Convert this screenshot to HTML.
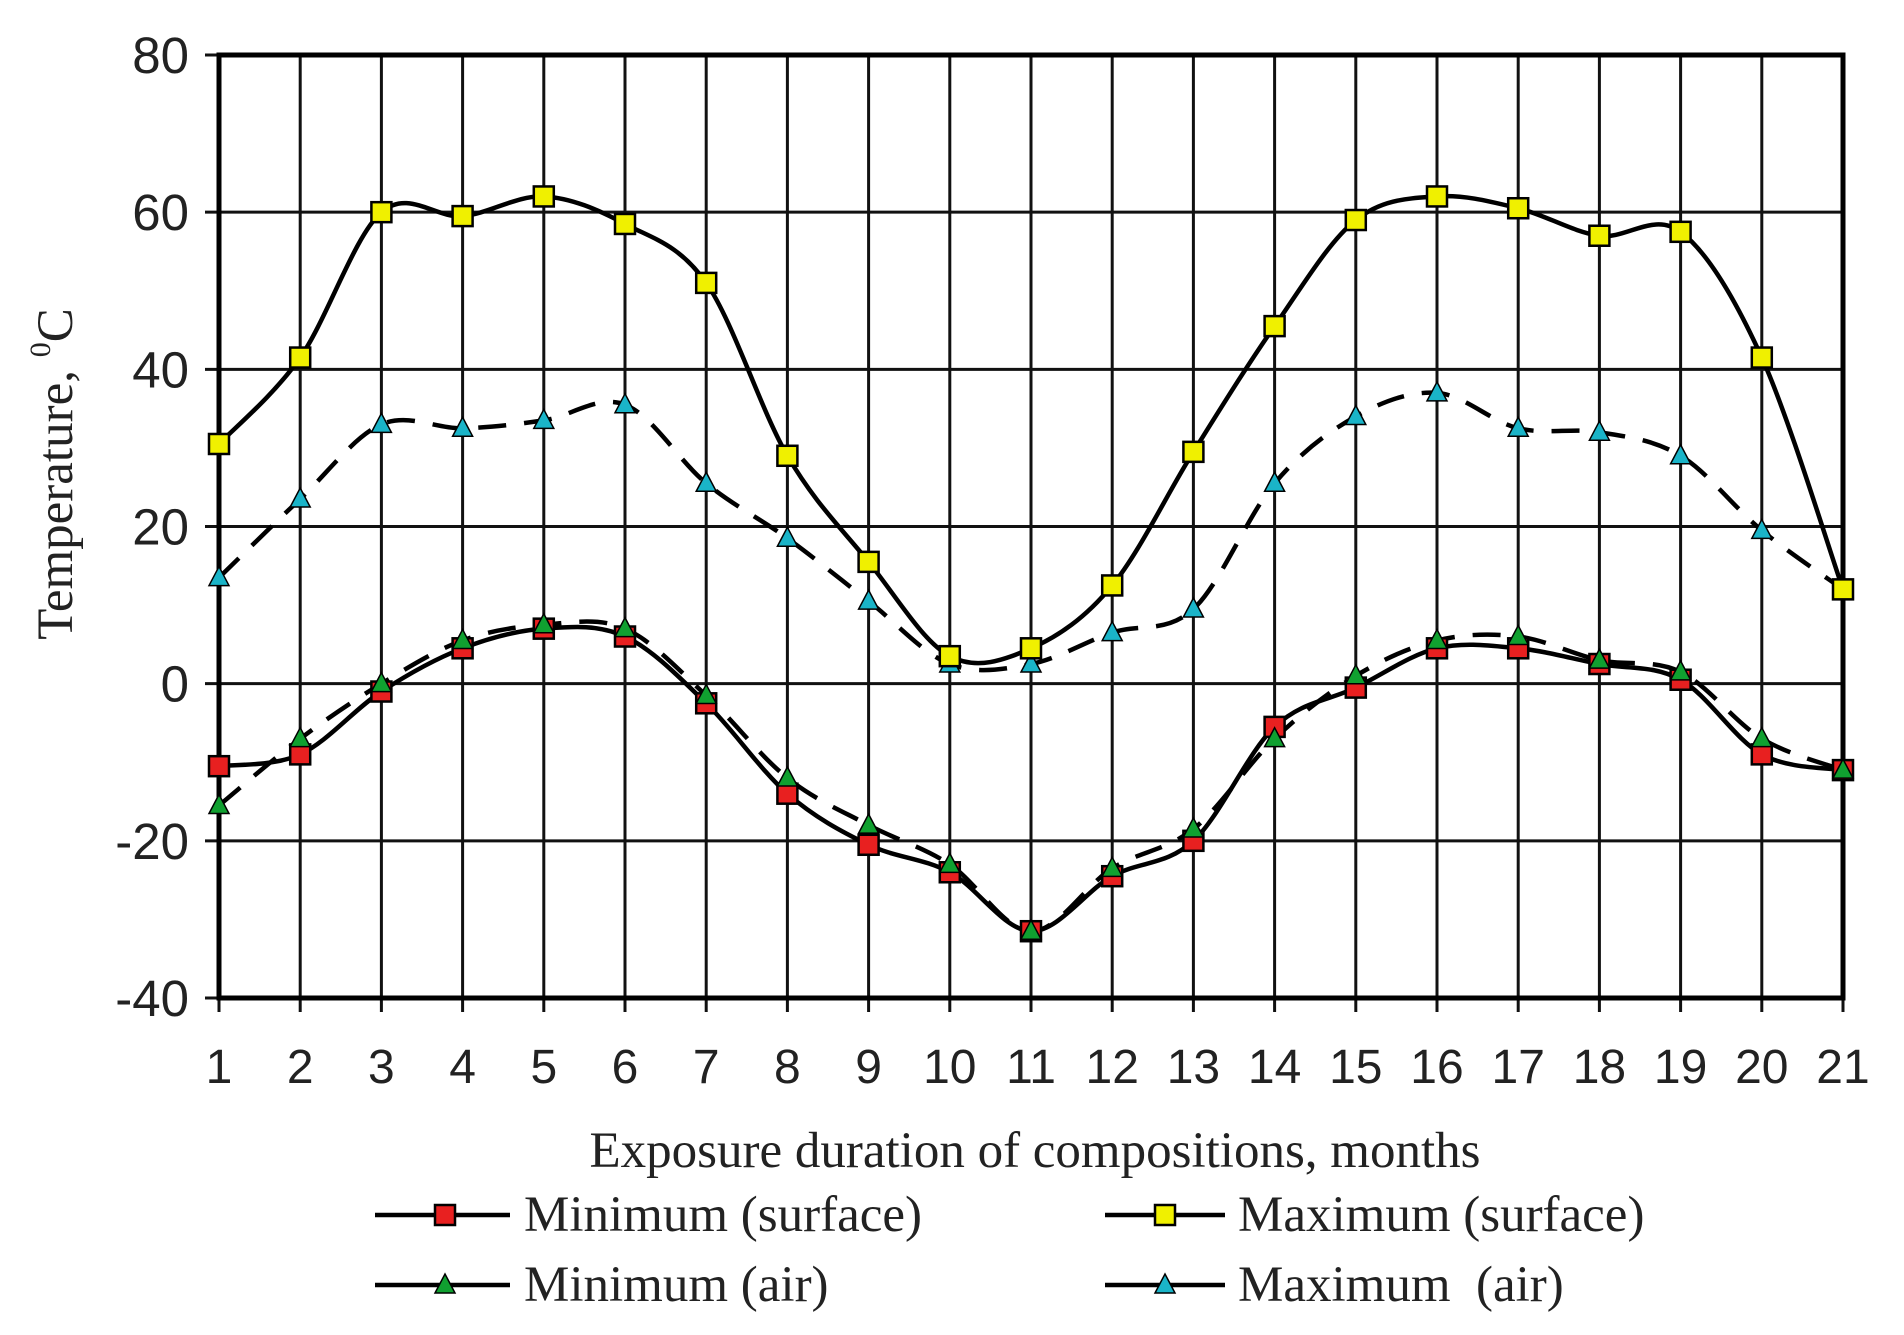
<!DOCTYPE html>
<html><head><meta charset="utf-8"><style>
html,body{margin:0;padding:0;background:#fff;width:1904px;height:1335px;overflow:hidden}
</style></head><body>
<svg id="s" width="1904" height="1335" xmlns="http://www.w3.org/2000/svg"></svg>
<script>
const L=219,R=1843,T=55,B=998;
const X=i=>L+(i-1)*(R-L)/20, Y=v=>T+(80-v)*(B-T)/120;
const maxS=[30.5,41.5,60,59.5,62,58.5,51,29,15.5,3.5,4.5,12.5,29.5,45.5,59,62,60.5,57,57.5,41.5,12];
const maxA=[13.5,23.5,33,32.5,33.5,35.5,25.5,18.5,10.5,2.5,2.5,6.5,9.5,25.5,34,37,32.5,32,29,19.5,12];
const minS=[-10.5,-9,-1,4.5,7,6,-2.5,-14,-20.5,-24,-31.5,-24.5,-20,-5.5,-0.5,4.5,4.5,2.5,0.5,-9,-11];
const minA=[-15.5,-7,0,5.5,7.5,7,-1.5,-12,-18,-23,-31.5,-23.5,-18.5,-7,1,5.5,6,3,1.5,-7,-11];
let h='';
for(let v=-40;v<=80;v+=20){h+=`<line x1="${L-14}" x2="${R}" y1="${Y(v)}" y2="${Y(v)}" stroke="#111" stroke-width="3"/>`;
h+=`<text x="${L-30}" y="${Y(v)+18}" text-anchor="end" font-family="Liberation Sans,sans-serif" font-size="51" fill="#222">${v}</text>`;}
for(let i=1;i<=21;i++){h+=`<line x1="${X(i)}" x2="${X(i)}" y1="${T}" y2="${B+14}" stroke="#111" stroke-width="3"/>`;
h+=`<text x="${X(i)}" y="1083" text-anchor="middle" font-family="Liberation Sans,sans-serif" font-size="48" fill="#222">${i}</text>`;}
h+=`<rect x="${L}" y="${T}" width="${R-L}" height="${B-T}" fill="none" stroke="#000" stroke-width="5"/>`;
function path(d){const p=d.map((v,i)=>[X(i+1),Y(v)]);let s=`M${p[0]}`;
for(let i=0;i<p.length-1;i++){const a=p[Math.max(0,i-1)],b=p[i],c=p[i+1],e=p[Math.min(p.length-1,i+2)];
s+=` C${b[0]+(c[0]-a[0])/6},${b[1]+(c[1]-a[1])/6} ${c[0]-(e[0]-b[0])/6},${c[1]-(e[1]-b[1])/6} ${c[0]},${c[1]}`;}return s;}
h+=`<path d="${path(maxA)}" fill="none" stroke="#000" stroke-width="4.5" stroke-dasharray="28,18"/>`;
h+=`<path d="${path(minA)}" fill="none" stroke="#000" stroke-width="4.5" stroke-dasharray="28,18"/>`;
h+=`<path d="${path(maxS)}" fill="none" stroke="#000" stroke-width="4.5"/>`;
h+=`<path d="${path(minS)}" fill="none" stroke="#000" stroke-width="4.5"/>`;
const sq=(x,y,c)=>`<rect x="${x-10}" y="${y-10}" width="20" height="20" fill="${c}" stroke="#000" stroke-width="2.5"/>`;
const tr=(x,y,c)=>`<polygon points="${x},${y-11} ${x+10},${y+8} ${x-10},${y+8}" fill="${c}" stroke="#000" stroke-width="1.5"/>`;
maxA.forEach((v,i)=>h+=tr(X(i+1),Y(v),'#1ab4c8'));
maxS.forEach((v,i)=>h+=sq(X(i+1),Y(v),'#f0f000'));
minS.forEach((v,i)=>h+=sq(X(i+1),Y(v),'#e82020'));
minA.forEach((v,i)=>h+=tr(X(i+1),Y(v),'#10a030'));
const F='font-family="Liberation Serif,serif" fill="#222"';
h+=`<text x="1035" y="1167" text-anchor="middle" ${F} font-size="51">Exposure duration of compositions, months</text>`;
h+=`<text transform="translate(72,474) rotate(-90)" text-anchor="middle" ${F} font-size="51">Temperature, <tspan font-size="30" dy="-22">0</tspan><tspan dy="22">C</tspan></text>`;
const leg=[[375,510,445,1231,'sq','#e82020','Minimum (surface)',524],[1105,1225,1165,1231,'sq','#f0f000','Maximum (surface)',1238],
[375,510,445,1301,'tr','#10a030','Minimum (air)',524],[1105,1225,1165,1301,'tr','#1ab4c8','Maximum  (air)',1238]];
leg.forEach(([a,b,m,y,t,c,s,tx])=>{h+=`<line x1="${a}" x2="${b}" y1="${y-16}" y2="${y-16}" stroke="#000" stroke-width="4.5"/>`;
h+=t=='sq'?sq(m,y-16,c):tr(m,y-16,c);
h+=`<text x="${tx}" y="${y}" ${F} font-size="51" xml:space="preserve">${s}</text>`;});
document.getElementById('s').innerHTML=h;
</script>
</body></html>
